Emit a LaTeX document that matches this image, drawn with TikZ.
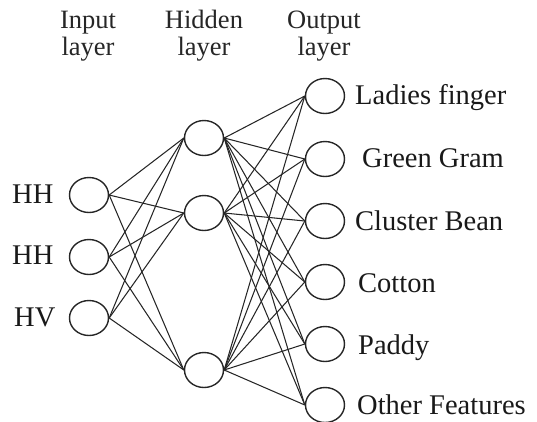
\documentclass[tikz,border=0pt]{standalone}
\usepackage{fontspec}
\setmainfont{Liberation Serif}
\usetikzlibrary{shapes.geometric}
\begin{document}
\begin{tikzpicture}[x=1pt,y=-1pt,
  neuron/.style={draw=black!85, line width=1.4pt, ellipse, minimum width=39pt, minimum height=35pt, inner sep=0pt},
  link/.style={draw=black!85, line width=1.05pt},
  txt/.style={font=\fontsize{28.5}{32}\selectfont, inner sep=0pt, anchor=base west, text=black!90},
  title/.style={font=\fontsize{26.5}{27}\selectfont, inner sep=0pt, anchor=base, text=black!85, align=center}]
\useasboundingbox (0,0) rectangle (537,421);

% layer titles
\node[title] (tin)  at (88,28) {Input};
\node[title] (tinl) at (88,55) {layer};
\node[title] (thid)  at (204,28) {Hidden};
\node[title] (thidl) at (204,55) {layer};
\node[title] (tout)  at (324,28) {Output};
\node[title] (toutl) at (324,55) {layer};

% input layer
\node[neuron] (i1) at (89,195) {};
\node[neuron] (i2) at (89,257) {};
\node[neuron] (i3) at (89,318) {};

% hidden layer
\node[neuron] (h1) at (204,138) {};
\node[neuron] (h2) at (204,213) {};
\node[neuron] (h3) at (204,370) {};

% output layer
\node[neuron] (o1) at (325,96) {};
\node[neuron] (o2) at (325,159) {};
\node[neuron] (o3) at (325,221) {};
\node[neuron] (o4) at (325,282) {};
\node[neuron] (o5) at (325,344) {};
\node[neuron] (o6) at (325,405) {};

% input labels
\node[txt] (l1) at (12,203) {HH};
\node[txt] (l2) at (12,264) {HH};
\node[txt] (l3) at (14,326) {HV};

% output labels
\node[txt] (c1) at (355,104) {Ladies finger};
\node[txt] (c2) at (362,167) {Green Gram};
\node[txt] (c3) at (355,230) {Cluster Bean};
\node[txt] (c4) at (358,292) {Cotton};
\node[txt] (c5) at (358,354) {Paddy};
\node[txt] (c6) at (357,414) {Other Features};

% connections
\foreach \a in {i1,i2,i3}
  \foreach \b in {h1,h2,h3}
    \draw[link] (\a.east) -- (\b.west);
\foreach \a in {h1,h2,h3}
  \foreach \b in {o1,o2,o3,o4,o5,o6}
    \draw[link] (\a.east) -- (\b.west);
\end{tikzpicture}
\end{document}
